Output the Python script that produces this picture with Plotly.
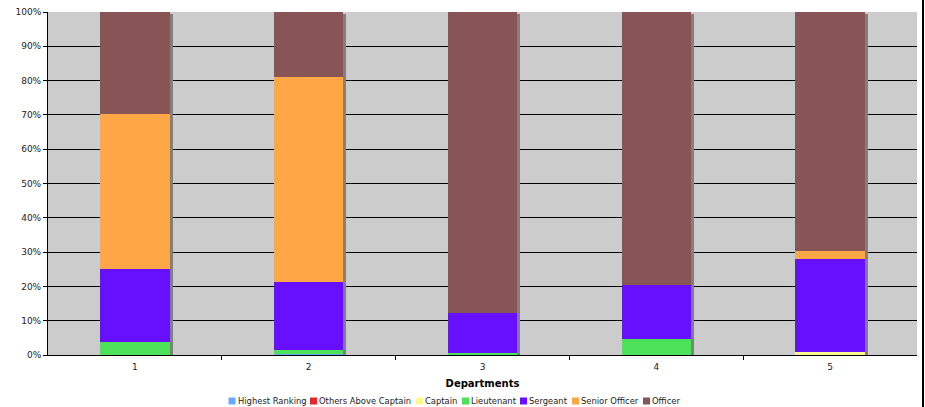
import plotly.graph_objects as go

departments = [1, 2, 3, 4, 5]
highest_ranking = [0, 0.3, 0, 0, 0]
others_above_captain = [0, 0, 0, 0, 0]
captain = [0, 0, 0, 0, 1.0]
lieutenant = [3.9, 1.2, 0.6, 4.7, 0]
sergeant = [21.2, 19.8, 11.6, 15.7, 27.0]
senior_officer = [45.3, 59.7, 0, 0, 2.4]
officer = [29.6, 19.0, 87.8, 79.6, 69.6]

series_names = ["Highest Ranking", "Others Above Captain", "Captain", "Lieutenant",
                "Sergeant", "Senior Officer", "Officer"]
series_values = [highest_ranking, others_above_captain, captain, lieutenant,
                 sergeant, senior_officer, officer]
series_colors = ["#66AAFF", "#E0282E", "#FFF68F", "#4DE15A", "#6610FF", "#FFA646", "#875555"]

totals = [sum(v) for v in zip(*series_values)]

FONT = "DejaVu Sans, Verdana, sans-serif"
BW = 0.4
SH = 0.017

# layout geometry (pixels)
W, H = 925, 407
ML, MR, MT, MB = 48, 8, 12, 52
PW, PH = W - ML - MR, H - MT - MB
LEG_SWATCH_X = [228.5, 310, 416, 462, 520, 572, 643]  # left edge of legend swatches
LEG_Y = 401


def px_x(p):
    return (p - ML) / PW


def px_y(p):
    return (H - MB - p) / PH


fig = go.Figure()
# shadow behind bars
fig.add_trace(go.Bar(
    x=departments, y=totals, base=-0.6,
    width=BW, offset=-BW / 2 + SH,
    marker=dict(color="#808080", line=dict(width=0)),
    showlegend=False, hoverinfo="skip", xaxis="x", yaxis="y",
))
for name, vals, color in zip(series_names, series_values, series_colors):
    fig.add_trace(go.Bar(
        x=departments, y=vals, name=name, width=BW,
        marker=dict(color=color, line=dict(width=0)),
        xaxis="x", yaxis="y2", showlegend=False,
    ))

shapes = [dict(type="line", xref="paper", yref="paper",
               x0=px_x(923), x1=px_x(923), y0=px_y(H + 5), y1=px_y(-5),
               line=dict(color="black", width=2))]
annotations = []
for sx, name, color in zip(LEG_SWATCH_X, series_names, series_colors):
    shapes.append(dict(type="rect", xref="paper", yref="paper",
                       x0=px_x(sx), x1=px_x(sx + 7), y0=px_y(LEG_Y + 3.5), y1=px_y(LEG_Y - 3.5),
                       fillcolor=color, line=dict(width=0)))
    annotations.append(dict(text=name, xref="paper", yref="paper", x=px_x(sx + 8),
                            y=px_y(LEG_Y), xanchor="left", yanchor="middle", showarrow=False,
                            font=dict(size=8.4, color="#222", family=FONT), borderpad=0))

fig.update_layout(
    width=W, height=H,
    barmode="stack",
    paper_bgcolor="white",
    plot_bgcolor="#CCCCCC",
    margin=dict(l=ML, r=MR, t=MT, b=MB, autoexpand=False),
    font=dict(family=FONT, size=9, color="#222"),
    showlegend=False,
    xaxis=dict(
        range=[0.5, 5.5], tickvals=departments, ticktext=[str(d) for d in departments],
        ticks="", showline=True, linecolor="black", linewidth=1, showgrid=False,
        zeroline=False, ticklabelstandoff=3,
        minor=dict(tickvals=[1.5, 2.5, 3.5, 4.5], ticks="outside", ticklen=4,
                   tickcolor="black", showgrid=False),
        title=dict(text="<b>Departments</b>", font=dict(size=10, color="black"), standoff=9),
        tickfont=dict(size=9),
    ),
    yaxis=dict(
        range=[0, 100], dtick=10, ticksuffix="%", showgrid=True, gridcolor="black",
        gridwidth=1, showline=True, linecolor="black", linewidth=1,
        ticks="outside", ticklen=4, tickcolor="black", zeroline=False,
        tickfont=dict(size=9),
    ),
    yaxis2=dict(
        range=[0, 100], overlaying="y", showgrid=False, showticklabels=False,
        zeroline=False, showline=False,
    ),
    shapes=shapes,
    annotations=annotations,
)

fig.write_html("out.html")
